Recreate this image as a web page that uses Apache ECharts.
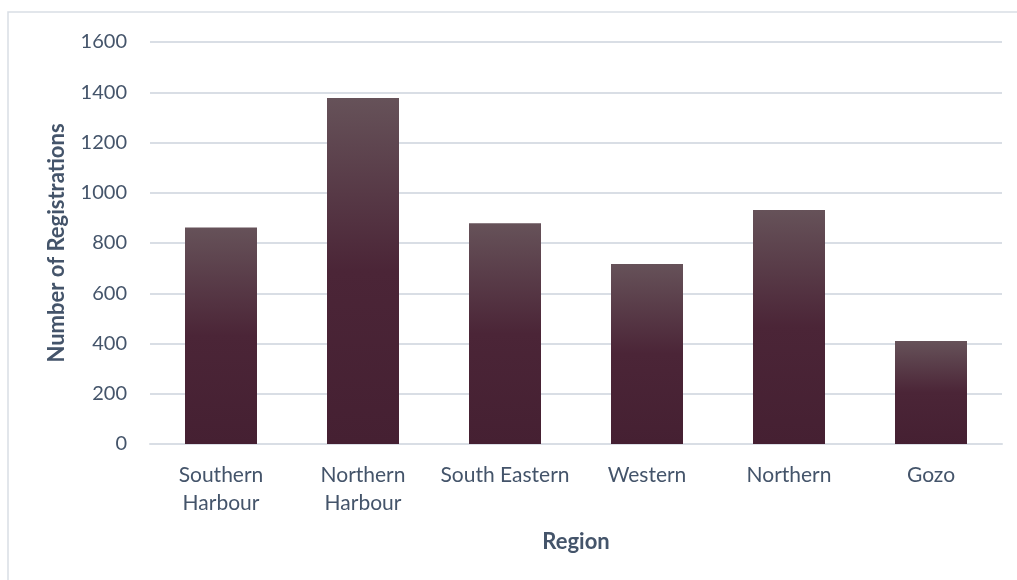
<!DOCTYPE html>
<html>
<head>
<meta charset="utf-8">
<script src="https://cdn.jsdelivr.net/npm/echarts@6/dist/echarts.min.js"></script>
<style>
  html, body { margin: 0; padding: 0; background: #fff; }
  #chart { width: 1017px; height: 580px; }
</style>
</head>
<body>
<div id="chart"></div>
<script>
// data
var regions = ['Southern\nHarbour', 'Northern\nHarbour', 'South Eastern', 'Western', 'Northern', 'Gozo'];
var registrations = [862, 1377, 879, 716, 931, 410];
var yTicks = [0, 200, 400, 600, 800, 1000, 1200, 1400, 1600];

var textColor = '#44546a';
var font = 'Lato';

var myChart = echarts.init(document.getElementById('chart'));
var option = {
  backgroundColor: '#fff',
  animation: false,
  // outer chart border
  graphic: [{
    type: 'rect',
    shape: { x: 8, y: 12, width: 1040, height: 600 },
    style: { fill: 'none', stroke: '#d9dee5', lineWidth: 1.5 },
    silent: true
  }],
  grid: { left: 150, right: 15, top: 42, bottom: 136 },
  xAxis: {
    type: 'category',
    data: regions,
    name: 'Region',
    nameLocation: 'middle',
    nameGap: 87,
    nameTextStyle: { color: textColor, fontFamily: font, fontSize: 22, fontWeight: 'bold' },
    axisLine: { lineStyle: { color: '#d9dee5', width: 2 } },
    axisTick: { show: false },
    axisLabel: { color: textColor, fontFamily: font, fontSize: 21, margin: 17, lineHeight: 28, interval: 0 }
  },
  yAxis: {
    type: 'value',
    min: yTicks[0],
    max: yTicks[yTicks.length - 1],
    interval: yTicks[1] - yTicks[0],
    name: 'Number of Registrations',
    nameLocation: 'middle',
    nameGap: 82,
    nameTextStyle: { color: textColor, fontFamily: font, fontSize: 22, fontWeight: 'bold' },
    axisLine: { show: false },
    axisTick: { show: false },
    axisLabel: {
      color: textColor, fontFamily: font, fontSize: 20, margin: 23,
      formatter: function (v) { return String(v); }
    },
    splitLine: { lineStyle: { color: '#d9dee5', width: 2 } }
  },
  series: [{
    type: 'bar',
    data: registrations,
    barWidth: 72,
    itemStyle: {
      color: new echarts.graphic.LinearGradient(0, 0, 0, 1, [
        { offset: 0, color: '#665259' },
        { offset: 0.5, color: '#4b2537' },
        { offset: 1, color: '#452032' }
      ])
    }
  }]
};
myChart.setOption(option);
</script>
</body>
</html>
